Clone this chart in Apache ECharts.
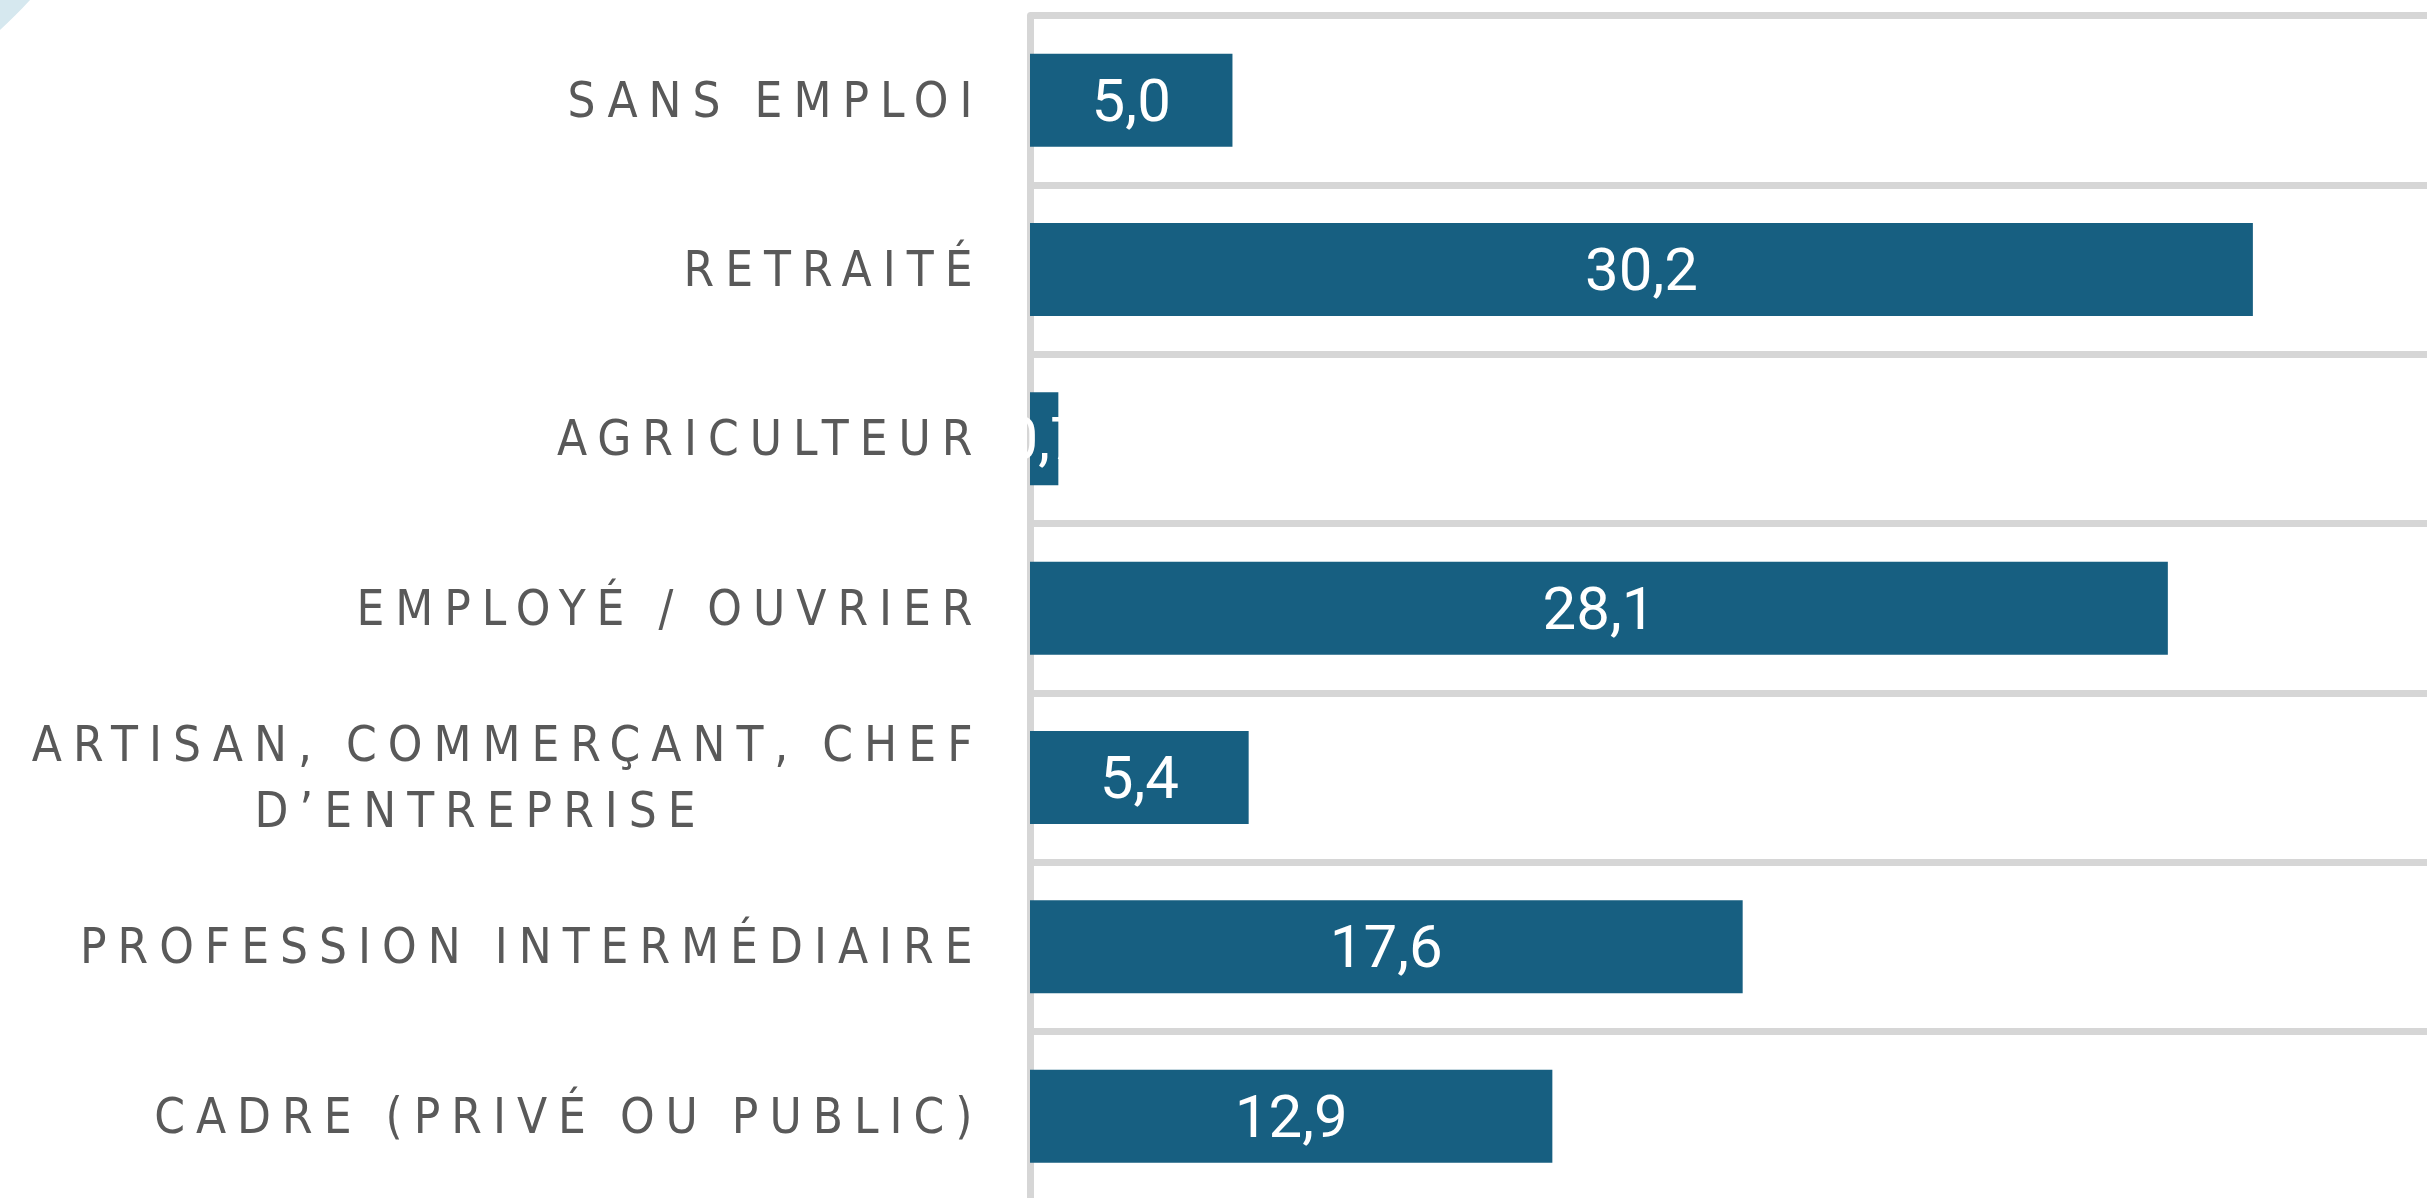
<!DOCTYPE html>
<html>
<head>
<meta charset="utf-8">
<script src="https://cdn.jsdelivr.net/npm/echarts@6/dist/echarts.min.js"></script>
<style>
  html, body { margin: 0; padding: 0; background: #ffffff; }
  #chart { width: 2427px; height: 1198px; }
  /* wide tracking on the category labels only */
  #chart text[style*="Condensed"] { letter-spacing: 11px; word-spacing: -2px; }
</style>
</head>
<body>
<div id="chart"></div>
<script>
const categories = [
  "SANS EMPLOI",
  "RETRAITÉ",
  "AGRICULTEUR",
  "EMPLOYÉ / OUVRIER",
  "ARTISAN, COMMERÇANT, CHEF\nD’ENTREPRISE",
  "PROFESSION INTERMÉDIAIRE",
  "CADRE (PRIVÉ OU PUBLIC)",
];
const values = [5.0, 30.2, 0.7, 28.1, 5.4, 17.6, 12.9];

const barColor = "#175f81";
const gridColor = "#d6d6d6";
const labelFont = "'DejaVu Sans Condensed', 'Liberation Sans Narrow', sans-serif";

function formatValue(v) {
  return v.toFixed(1).replace(".", ",");
}

const chart = echarts.init(document.getElementById("chart"), null, { renderer: "svg" });

const option = {
  backgroundColor: "#ffffff",
  animation: false,
  graphic: [
    {
      // light blue decorative circle in the top-left corner
      type: "circle",
      shape: { cx: -300, cy: -300, r: 446 },
      style: { fill: "#d6e8ef" },
      z: -10,
    },
  ],
  grid: {
    left: 1030,
    right: 0,
    top: 15.5,
    height: 1185.3,
    outerBoundsMode: "none",
  },
  xAxis: {
    type: "value",
    min: 0,
    max: 34.5,
    show: false,
  },
  yAxis: {
    type: "category",
    data: categories,
    inverse: true,
    offset: 3.5,
    axisTick: { show: false },
    axisLine: { lineStyle: { color: gridColor, width: 7 } },
    splitLine: { show: true, lineStyle: { color: gridColor, width: 7 } },
    axisLabel: {
      margin: 43,
      color: "#595959",
      fontFamily: labelFont,
      fontSize: 49,
      lineHeight: 66,
      formatter: function (value) {
        const lines = value.split("\n");
        if (lines.length < 2) return value;
        return "{a|" + lines[0] + "}\n{b|" + lines[1] + "}";
      },
      rich: {
        a: { fontFamily: labelFont, fontSize: 49, lineHeight: 66, color: "#595959" },
        b: { fontFamily: labelFont, fontSize: 49, lineHeight: 66, color: "#595959", width: 1006, align: "center" },
      },
    },
  },
  series: [
    {
      type: "bar",
      data: values,
      barWidth: 93,
      itemStyle: { color: barColor },
      label: {
        show: true,
        position: "inside",
        color: "#ffffff",
        fontFamily: "Roboto, 'Liberation Sans', sans-serif",
        fontSize: 60,
        formatter: function (p) {
          return formatValue(p.value);
        },
      },
    },
  ],
};

chart.setOption(option);
</script>
</body>
</html>
